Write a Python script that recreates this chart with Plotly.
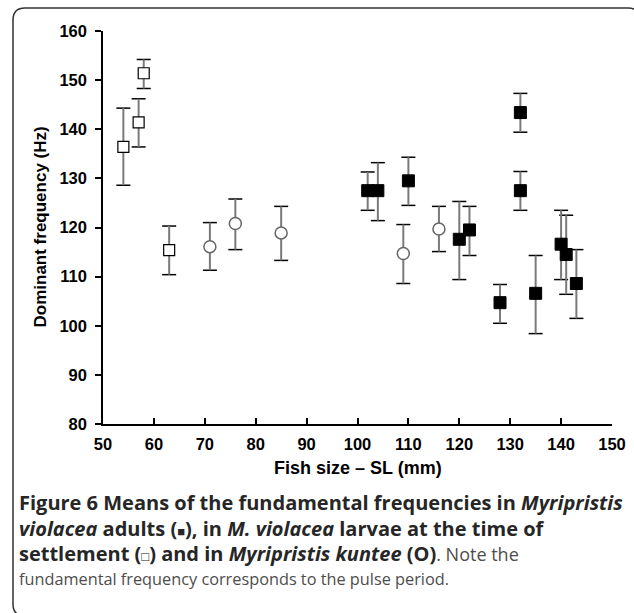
import plotly.graph_objects as go

# ---- data ----
adult_x = [102, 104, 110, 120, 122, 128, 132, 132, 135, 140, 141, 143]
adult_y = [127.5, 127.5, 129.5, 117.6, 119.5, 104.7, 143.4, 127.5, 106.6, 116.6, 114.5, 108.6]
adult_hi = [131.3, 133.2, 134.3, 125.3, 124.3, 108.4, 147.3, 131.4, 114.3, 123.5, 122.5, 115.5]
adult_lo = [123.5, 121.4, 124.5, 109.4, 114.3, 100.5, 139.4, 123.5, 98.4, 109.4, 106.4, 101.5]

larvae_x = [54, 57, 58, 63]
larvae_y = [136.4, 141.4, 151.4, 115.4]
larvae_hi = [144.3, 146.2, 154.2, 120.3]
larvae_lo = [128.6, 136.4, 148.3, 110.4]

kuntee_x = [71, 76, 85, 109, 116]
kuntee_y = [116.1, 120.8, 118.9, 114.7, 119.7]
kuntee_hi = [121.0, 125.8, 124.3, 120.6, 124.3]
kuntee_lo = [111.3, 115.5, 113.3, 108.6, 115.1]

x_ticks = [50, 60, 70, 80, 90, 100, 110, 120, 130, 140, 150]
y_ticks = [80, 90, 100, 110, 120, 130, 140, 150, 160]

W, H = 634, 613
L, R, T, B = 103, 612, 31, 424


def px(x):
    return (x - L) / (R - L)


def py(y):
    return (B - y) / (B - T)


fig = go.Figure()

STEM = "#7a7a7a"


def add_series(xs, ys, hi, lo, marker):
    ep = [h - v for h, v in zip(hi, ys)]
    em = [v - l for l, v in zip(lo, ys)]
    # caps
    fig.add_trace(go.Scatter(
        x=xs + xs, y=hi + lo, mode="markers",
        marker=dict(symbol="line-ew", size=10, line=dict(color="black", width=1.5)),
        hoverinfo="skip", showlegend=False))
    fig.add_trace(go.Scatter(
        x=xs, y=ys, mode="markers",
        error_y=dict(type="data", symmetric=False, array=ep, arrayminus=em,
                     color=STEM, thickness=2, width=0),
        marker=marker, showlegend=False))


add_series(adult_x, adult_y, adult_hi, adult_lo,
           dict(symbol="square", size=12, color="black", line=dict(color="black", width=1)))
add_series(larvae_x, larvae_y, larvae_hi, larvae_lo,
           dict(symbol="square", size=11, color="white", line=dict(color="black", width=1.2)))
add_series(kuntee_x, kuntee_y, kuntee_hi, kuntee_lo,
           dict(symbol="circle", size=12, color="white", line=dict(color="#666666", width=1.5)))

tickfont = dict(family="Liberation Sans", size=16.5, color="black", weight="bold")

fig.update_xaxes(range=[50, 150], tickvals=x_ticks, ticktext=[str(v) for v in x_ticks],
                 ticks="inside", ticklen=6, tickwidth=1.5, tickcolor="black",
                 showline=True, linecolor="black", linewidth=1.5,
                 showgrid=False, zeroline=False, tickfont=tickfont,
                 ticklabelstandoff=4, automargin=False)
fig.update_yaxes(range=[80, 160], tickvals=y_ticks, ticktext=[str(v) for v in y_ticks],
                 ticks="outside", ticklen=6, tickwidth=1.5, tickcolor="black",
                 showline=True, linecolor="black", linewidth=1.5,
                 showgrid=False, zeroline=False, tickfont=tickfont,
                 ticklabelstandoff=5, automargin=False)

ann = []
ann.append(dict(x=0.5, y=py(468), xref="paper", yref="paper",
                text="<b>Fish size – SL (mm)</b>", showarrow=False,
                font=dict(family="Liberation Sans", size=18, color="black"),
                xanchor="center", yanchor="middle"))
ann.append(dict(x=px(40), y=0.5, xref="paper", yref="paper",
                text="<b>Dominant frequency (Hz)</b>", showarrow=False, textangle=-90,
                font=dict(family="Liberation Sans", size=17, color="black"),
                xanchor="center", yanchor="middle"))

BOLD = "#262626"
REG = "#4d4d4d"
BS = 20


def b(t):
    return f"<span style='color:{BOLD};font-size:{BS}px'><b>{t}</b></span>"


sq_f = "<span style='font-size:13px'>■</span>"
sq_o = "<span style='font-size:13px'>□</span>"
cap_lines = [
    (502, b("Figure 6 Means of the fundamental frequencies in <i>Myripristis</i>")),
    (528, b(f"<i>violacea</i> adults ({sq_f}), in <i>M. violacea</i> larvae at the time of")),
    (553, b(f"settlement ({sq_o}) and in <i>Myripristis kuntee</i> (O)") + "<span style='font-size:18px'>. Note the</span>"),
    (579, "fundamental frequency corresponds to the pulse period."),
]
for yy, txt in cap_lines:
    ann.append(dict(x=px(17), y=py(yy), xref="paper", yref="paper", text=txt,
                    showarrow=False, align="left", xanchor="left", yanchor="middle",
                    font=dict(family="Open Sans", size=16.3, color=REG)))

# rounded frame
x0, x1, y0, y1, r = 13, 640, 8, 616, 12
X0, X1 = px(x0), px(x1)
Y0, Y1 = py(y0), py(y1)
rx = r / (R - L)
ry = r / (B - T)
path = (f"M {X0+rx} {Y0} L {X1-rx} {Y0} Q {X1} {Y0} {X1} {Y0-ry} "
        f"L {X1} {Y1+ry} Q {X1} {Y1} {X1-rx} {Y1} L {X0+rx} {Y1} "
        f"Q {X0} {Y1} {X0} {Y1+ry} L {X0} {Y0-ry} Q {X0} {Y0} {X0+rx} {Y0} Z")

fig.update_layout(
    width=W, height=H,
    margin=dict(l=L, r=W - R, t=T, b=H - B),
    plot_bgcolor="white", paper_bgcolor="white",
    annotations=ann,
    shapes=[dict(type="path", path=path, xref="paper", yref="paper",
                 line=dict(color="#333333", width=1.5), layer="below")],
)

fig.write_html("out.html", config={"displayModeBar": False},
               post_script="document.body.style.margin='0';document.body.style.overflow='hidden';")
